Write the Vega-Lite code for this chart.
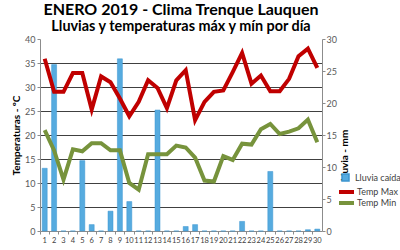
{
  "$schema": "https://vega.github.io/schema/vega-lite/v6.json",
  "width": 282,
  "height": 192,
  "autosize": {"type": "none"},
  "padding": {"left": 40, "top": 39, "right": 78, "bottom": 19},
  "title": {
    "text": "ENERO 2019 - Clima Trenque Lauquen",
    "subtitle": "Lluvias y temperaturas máx y mín por día",
    "font": "Lato", "fontSize": 16, "fontWeight": "bold", "color": "#000000",
    "subtitleFont": "Lato", "subtitleFontSize": 14.4, "subtitleFontWeight": "bold", "subtitleColor": "#000000",
    "anchor": "middle", "offset": 2, "subtitlePadding": 2
  },
  "config": {"view": {"stroke": null}, "font": "Lato"},
  "data": {"values": [
    {"dia": 1, "lluvia": 9.8, "tmax": 35.9, "tmin": 21.0},
    {"dia": 2, "lluvia": 26.0, "tmax": 29.0, "tmin": 16.8},
    {"dia": 3, "lluvia": 0, "tmax": 29.0, "tmin": 10.7},
    {"dia": 4, "lluvia": 0, "tmax": 32.9, "tmin": 17.0},
    {"dia": 5, "lluvia": 11.0, "tmax": 32.9, "tmin": 16.6},
    {"dia": 6, "lluvia": 1.0, "tmax": 25.3, "tmin": 18.3},
    {"dia": 7, "lluvia": 0, "tmax": 32.2, "tmin": 18.3},
    {"dia": 8, "lluvia": 3.1, "tmax": 31.0, "tmin": 16.8},
    {"dia": 9, "lluvia": 26.9, "tmax": 27.6, "tmin": 16.8},
    {"dia": 10, "lluvia": 4.6, "tmax": 23.9, "tmin": 10.0},
    {"dia": 11, "lluvia": 0, "tmax": 26.9, "tmin": 8.6},
    {"dia": 12, "lluvia": 0, "tmax": 31.4, "tmin": 16.0},
    {"dia": 13, "lluvia": 18.9, "tmax": 29.8, "tmin": 16.0},
    {"dia": 14, "lluvia": 0, "tmax": 25.6, "tmin": 16.0},
    {"dia": 15, "lluvia": 0, "tmax": 31.4, "tmin": 17.8},
    {"dia": 16, "lluvia": 0.7, "tmax": 33.5, "tmin": 17.4},
    {"dia": 17, "lluvia": 1.0, "tmax": 23.1, "tmin": 15.3},
    {"dia": 18, "lluvia": 0, "tmax": 26.9, "tmin": 10.5},
    {"dia": 19, "lluvia": 0, "tmax": 29.0, "tmin": 10.3},
    {"dia": 20, "lluvia": 0, "tmax": 29.3, "tmin": 15.6},
    {"dia": 21, "lluvia": 0, "tmax": 33.1, "tmin": 14.8},
    {"dia": 22, "lluvia": 1.5, "tmax": 37.1, "tmin": 18.2},
    {"dia": 23, "lluvia": 0, "tmax": 30.7, "tmin": 18.0},
    {"dia": 24, "lluvia": 0, "tmax": 32.4, "tmin": 21.2},
    {"dia": 25, "lluvia": 9.3, "tmax": 29.1, "tmin": 22.3},
    {"dia": 26, "lluvia": 0, "tmax": 29.1, "tmin": 20.2},
    {"dia": 27, "lluvia": 0, "tmax": 31.7, "tmin": 20.7},
    {"dia": 28, "lluvia": 0, "tmax": 36.4, "tmin": 21.4},
    {"dia": 29, "lluvia": 0.2, "tmax": 38.0, "tmin": 23.2},
    {"dia": 30, "lluvia": 0.3, "tmax": 34.0, "tmin": 18.5}
  ]},
  "encoding": {
    "x": {
      "field": "dia", "type": "ordinal",
      "scale": {"paddingInner": 0, "paddingOuter": 0},
      "axis": {
        "title": null, "labelAngle": 0, "labelFontSize": 7.5, "labelColor": "#404040",
        "tickSize": 3, "bandPosition": 0, "domainColor": "#8c8c8c", "tickColor": "#8c8c8c",
        "grid": false, "labelPadding": 2, "labelOverlap": false
      }
    }
  },
  "layer": [
    {
      "mark": {"type": "bar", "size": 5, "stroke": "#3b95d0", "strokeWidth": 0.5},
      "encoding": {
        "y": {
          "field": "lluvia", "type": "quantitative",
          "scale": {"domain": [0, 30], "nice": false},
          "axis": {
            "orient": "right", "title": "Lluvia - mm", "titleFontSize": 10, "titleFontWeight": "bold",
            "titleColor": "#000000", "titleAngle": -90, "titleX": 27, "titleY": 116,
            "values": [0, 5, 10, 15, 20, 25, 30], "labelFontSize": 9, "labelColor": "#595959",
            "tickSize": 3, "domainColor": "#8c8c8c", "tickColor": "#8c8c8c", "grid": false, "labelPadding": 1
          }
        },
        "fill": {
          "datum": "Lluvia caída", "type": "nominal",
          "scale": {"domain": ["Lluvia caída"], "range": ["#56ABDF"]},
          "legend": {
            "orient": "none", "legendX": 297, "legendY": 134, "title": null,
            "labelFont": "Lato", "labelFontSize": 9, "labelColor": "#404040",
            "symbolType": "square", "symbolSize": 49, "labelOffset": 5, "symbolOffset": 4
          }
        }
      }
    },
    {
      "mark": {"type": "line", "strokeWidth": 4},
      "encoding": {
        "y": {
          "field": "tmax", "type": "quantitative",
          "scale": {"domain": [0, 40], "nice": false},
          "axis": {
            "orient": "left", "title": "Temperaturas - ºC", "titleFontSize": 10, "titleFontWeight": "bold",
            "titleColor": "#000000", "titlePadding": 3,
            "values": [0, 5, 10, 15, 20, 25, 30, 35, 40], "labelFontSize": 9, "labelColor": "#595959",
            "tickSize": 3, "domainColor": "#8c8c8c", "tickColor": "#8c8c8c", "labelPadding": 2,
            "grid": true,
            "gridColor": {"condition": {"test": "datum.value === 0 || datum.value === 40", "value": "transparent"}, "value": "#404040"},
            "gridWidth": 1
          }
        },
        "stroke": {
          "datum": "Temp Max", "type": "nominal",
          "scale": {"domain": ["Temp Max"], "range": ["#C00000"]},
          "legend": {
            "orient": "none", "legendX": 297, "legendY": 143.5, "title": null,
            "labelFont": "Lato", "labelFontSize": 9, "labelColor": "#404040",
            "symbolType": "stroke", "symbolSize": 225, "symbolStrokeWidth": 4, "labelOffset": 1
          }
        }
      }
    },
    {
      "mark": {"type": "line", "strokeWidth": 4},
      "encoding": {
        "y": {
          "field": "tmin", "type": "quantitative",
          "scale": {"domain": [0, 40], "nice": false},
          "axis": null
        },
        "color": {
          "datum": "Temp Min", "type": "nominal",
          "scale": {"domain": ["Temp Min"], "range": ["#77933C"]},
          "legend": {
            "orient": "none", "legendX": 297, "legendY": 154.5, "title": null,
            "labelFont": "Lato", "labelFontSize": 9, "labelColor": "#404040",
            "symbolType": "stroke", "symbolSize": 225, "symbolStrokeWidth": 4, "labelOffset": 1
          }
        }
      }
    }
  ],
  "resolve": {"scale": {"y": "independent"}}
}
